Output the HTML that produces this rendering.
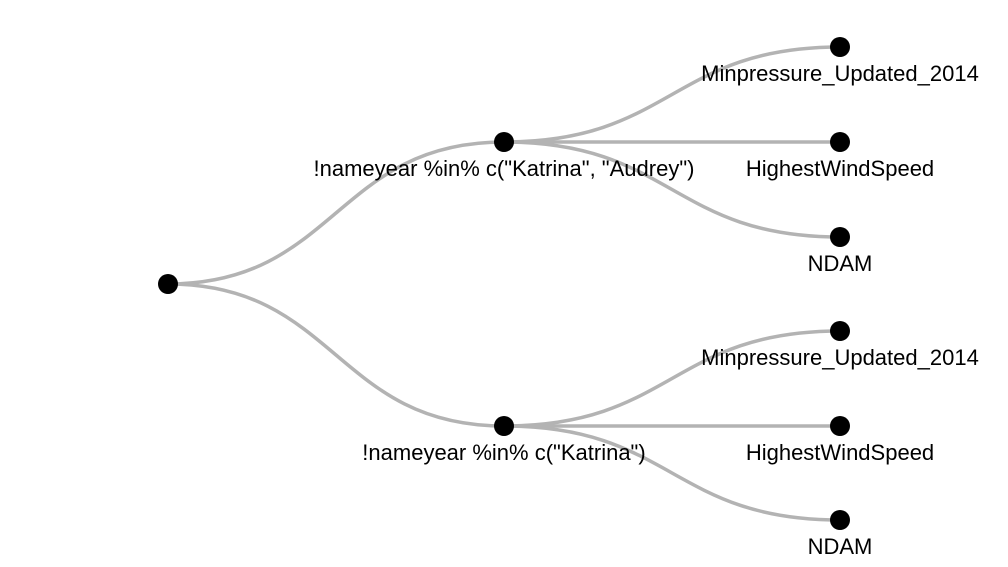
<!DOCTYPE html>
<html><head><style>body{margin:0;background:#fff}svg{display:block}</style></head><body>
<svg width="1008" height="567" xmlns="http://www.w3.org/2000/svg">
<g fill="none" stroke="#b3b3b3" stroke-width="3.5">
<path d="M168,284 C336,284 336,142 504,142"/>
<path d="M168,284 C336,284 336,426 504,426"/>
<path d="M504,142 C672,142 672,47 840,47"/>
<path d="M504,142 L840,142"/>
<path d="M504,142 C672,142 672,237 840,237"/>
<path d="M504,426 C672,426 672,331 840,331"/>
<path d="M504,426 L840,426"/>
<path d="M504,426 C672,426 672,520 840,520"/>
</g>
<g fill="#000">
<circle cx="168" cy="284" r="10"/>
<circle cx="504" cy="142" r="10"/>
<circle cx="504" cy="426" r="10"/>
<circle cx="840" cy="47" r="10"/>
<circle cx="840" cy="142" r="10"/>
<circle cx="840" cy="237" r="10"/>
<circle cx="840" cy="331" r="10"/>
<circle cx="840" cy="426" r="10"/>
<circle cx="840" cy="520" r="10"/>
</g>
<g font-family="Liberation Sans, sans-serif" font-size="22" text-anchor="middle" fill="#000">
<text x="504" y="176">!nameyear %in% c("Katrina", "Audrey")</text>
<text x="504" y="460">!nameyear %in% c("Katrina")</text>
<text x="840" y="81">Minpressure_Updated_2014</text>
<text x="840" y="176">HighestWindSpeed</text>
<text x="840" y="271">NDAM</text>
<text x="840" y="365">Minpressure_Updated_2014</text>
<text x="840" y="460">HighestWindSpeed</text>
<text x="840" y="554">NDAM</text>
</g>
</svg>
</body></html>
